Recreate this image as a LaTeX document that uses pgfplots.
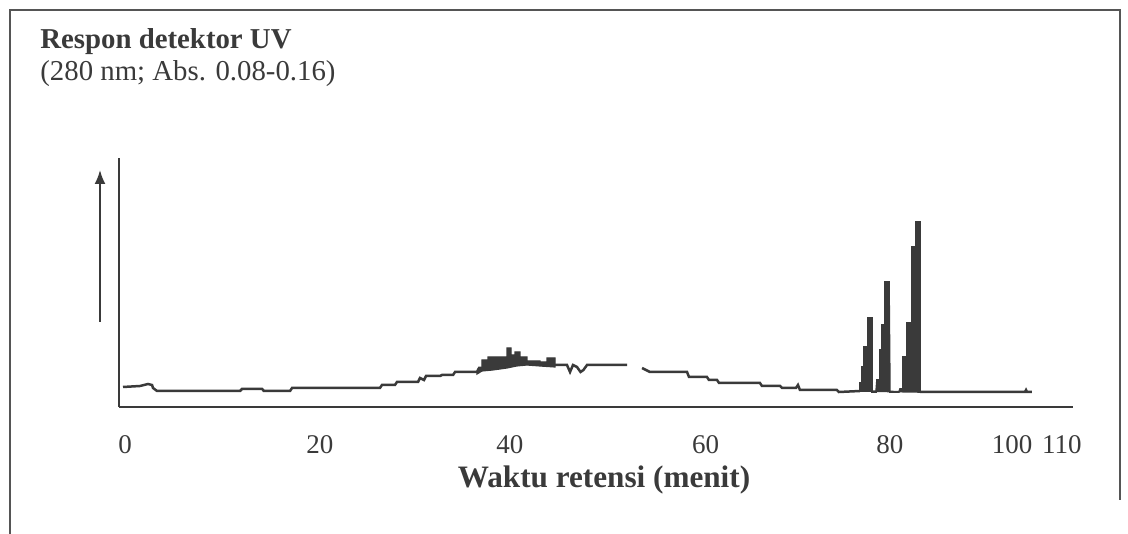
\documentclass[border=0pt]{standalone}
\usepackage{pgfplots}
\pgfplotsset{compat=1.18}
\usetikzlibrary{arrows.meta}
\usepackage{fontspec}
\setmainfont{Liberation Serif}
\definecolor{ink}{HTML}{3A3A3A}
\definecolor{frame}{HTML}{555555}
\begin{document}
\begin{tikzpicture}
\useasboundingbox (0,0) rectangle (564pt,267pt);
% scanned frame
\draw[frame, line width=0.8pt] (5pt,0pt) -- (5pt,262pt) -- (560pt,262pt) -- (560pt,17pt);
% y-axis title and arrow
\node[anchor=west, text=ink, inner sep=0pt] at (20pt,246pt) {\fontsize{14.4}{16}\selectfont\bfseries Respon detektor UV};
\node[anchor=west, text=ink, inner sep=0pt] at (20pt,230pt) {\fontsize{14.4}{16}\selectfont (280 nm; Abs. 0.08-0.16)};
\draw[ink, line width=1pt, -{Latex[length=7pt,width=5.5pt]}] (50pt,106pt) -- (50pt,182pt);
\node[text=ink, inner sep=0pt] at (302pt,27pt) {\fontsize{15.6}{18}\selectfont\bfseries Waktu retensi (menit)};
\begin{axis}[
  at={(59.5pt,63.5pt)}, anchor=south west,
  scale only axis, width=477pt, height=124.5pt,
  xmin=-0.63, xmax=99.27, ymin=0, ymax=249,
  axis x line=bottom, axis y line=left,
  axis line style={ink, line width=1pt, -},
  ytick=\empty,
  xtick={0,20.4,40.3,60.8,80.1,92.9,98.1},
  xticklabels={0,20,40,60,80,100,110},
  major tick length=0pt,
  /pgf/number format/assume math mode=true,
  xticklabel style={anchor=center, yshift=-19pt, text=ink, font=\fontsize{13.5}{16}\selectfont},
  clip=false,
  unbounded coords=jump,
]
% baseline trace
\addplot[ink, line width=1.25pt] coordinates {
(-0.21,20) (1.57,21) (2.41,23) (2.83,22) (2.93,19) (3.35,16) (12.04,16) (12.25,18)
(14.35,18) (14.55,16) (17.28,16) (17.49,19) (26.70,19) (26.91,22) (28.27,22) (28.48,25)
(30.68,25) (30.89,29) (31.31,27) (31.52,31) (32.98,31) (33.19,32) (34.35,32) (34.56,35)
(36.86,35) (37.07,39) (37.38,39)
(37.40,nan)
(45.03,42) (46.28,42) (46.6,35) (46.91,42) (47.33,40) (47.7,35) (48.0,37) (48.38,42) (52.57,42)
(53.00,nan)
(54.14,39) (54.97,35) (58.85,35) (59.06,30) (60.94,30) (61.15,27) (61.99,27) (62.20,24)
(66.49,24) (66.70,21) (68.59,21) (68.80,19) (70.26,19) (70.47,22) (70.68,17) (74.55,17)
(74.76,15) (76.96,16)
};
% thick part of the hump
\addplot[ink, fill=ink, line width=0.6pt] coordinates {
(36.86,35) (37.07,39) (37.38,39) (37.38,47) (38.01,47) (38.01,50) (40.00,50) (40.00,59)
(40.42,59) (40.42,52) (40.84,52) (40.84,55) (41.36,55) (41.36,50) (42.09,50) (42.09,46)
(43.46,46) (43.46,45) (44.19,45) (44.19,49) (45.03,49) (45.03,42)
(45.03,40) (43.46,41) (42.09,42) (41.0,41) (40.0,39) (38.5,37) (37.38,36) (36.86,33)
} -- cycle;
% peaks
\addplot[ink, fill=ink, line width=0.8pt] coordinates {
(76.96,16) (76.96,24) (77.17,24) (77.17,40) (77.38,40) (77.38,60) (77.80,60) (77.80,89)
(78.22,89) (78.22,15) (78.64,15)
(78.74,27) (79.06,27) (79.06,57) (79.27,57) (79.27,82) (79.58,82) (79.58,125) (80.00,125) (80.10,15)
(81.05,15) (81.15,18) (81.47,18)
(81.47,50) (81.88,50) (81.88,84) (82.30,84) (82.30,20) (82.41,20)
(82.41,160) (82.83,160) (82.83,185) (83.25,185) (83.25,15)
} -- cycle;
% tail
\addplot[ink, line width=1.25pt] coordinates {
(83.25,15) (94.24,15) (94.35,17) (94.45,15) (94.97,15)
};
\end{axis}
\end{tikzpicture}
\end{document}
